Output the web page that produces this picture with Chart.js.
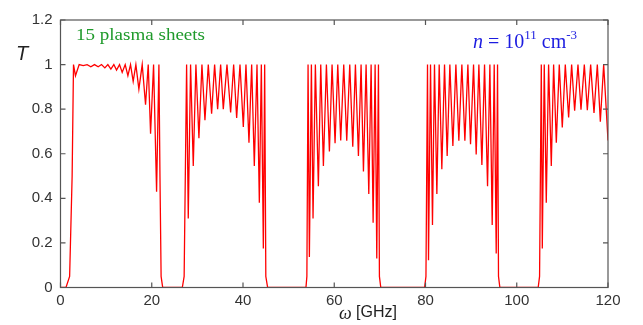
<!DOCTYPE html>
<html>
<head>
<meta charset="utf-8">
<script src="https://cdn.jsdelivr.net/npm/chart.js@4.4.0/dist/chart.umd.min.js"></script>
<style>
html, body { margin: 0; padding: 0; background: #fff; }
#wrap { width: 643px; height: 325px; }
</style>
</head>
<body>
<div id="wrap"><canvas id="transmission" width="643" height="325"></canvas></div>
<script>

/* TRANSMISSION T vs omega, 15 plasma sheets */

// band 1 (about 2 - 22 GHz)
const band1W = [0, 1.2, 2.0, 2.55, 2.85, 3.28, 4.09, 4.97, 5.84, 6.65, 7.45, 8.26, 8.99, 9.72, 10.38,
                11.04, 11.69, 12.28, 12.94, 13.52, 14.18, 14.77, 15.35, 15.93, 16.52,
                17.18, 17.91, 18.64, 19.23, 19.74, 20.40, 21.06, 21.57, 21.8, 22.05, 22.4];
const band1T = [0, 0, 0.05, 0.5, 1, 0.95, 1, 0.995, 1, 0.99, 1, 0.99, 1, 0.985, 1,
                0.98, 1, 0.975, 1, 0.965, 1, 0.95, 1, 0.925, 1,
                0.89, 1, 0.82, 1, 0.69, 1, 0.43, 1, 0.5, 0.05, 0];

// band 2 (about 27 - 45 GHz)
const band2W = [26.7, 27.1, 27.64, 28.00, 28.51, 29.10, 29.68, 30.34, 31.00, 31.66, 32.39, 33.12,
                33.78, 34.44, 35.10, 35.68, 36.49, 37.29, 37.95, 38.61, 39.34, 40.07, 40.65,
                41.31, 41.90, 42.48, 43.07, 43.58, 44.02, 44.46, 44.75, 45.0, 45.4];
const band2T = [0, 0.05, 1, 0.31, 1, 0.545, 1, 0.67, 1, 0.75, 1, 0.78,
                1, 0.80, 1, 0.80, 1, 0.785, 1, 0.76, 1, 0.72, 1,
                0.65, 1, 0.545, 1, 0.38, 1, 0.175, 1, 0.05, 0];

// band 3 (about 54 - 70 GHz)
const band3W = [53.8, 54.0, 54.26, 54.55, 54.99, 55.35, 55.86, 56.52, 57.04, 57.62, 58.28, 58.94,
                59.52, 60.18, 60.77, 61.42, 62.08, 62.74, 63.40, 64.06, 64.64, 65.30, 65.88,
                66.40, 66.98, 67.57, 68.08, 68.52, 68.96, 69.32, 69.69, 69.9, 70.2];
const band3T = [0, 0.05, 1, 0.137, 1, 0.31, 1, 0.454, 1, 0.545, 1, 0.61,
                1, 0.647, 1, 0.66, 1, 0.658, 1, 0.632, 1, 0.59, 1,
                0.52, 1, 0.42, 1, 0.29, 1, 0.13, 1, 0.05, 0];

// band 4 (about 80 - 96 GHz)
const band4W = [79.8, 80.1, 80.44, 80.66, 81.10, 81.53, 81.97, 82.49, 83.00, 83.58, 84.17, 84.75,
                85.34, 86.00, 86.66, 87.31, 87.97, 88.63, 89.29, 89.87, 90.53, 91.11, 91.70,
                92.36, 92.94, 93.60, 94.11, 94.62, 95.06, 95.50, 95.79, 96.0, 96.3];
const band4T = [0, 0.05, 1, 0.122, 1, 0.28, 1, 0.42, 1, 0.53, 1, 0.59,
                1, 0.635, 1, 0.658, 1, 0.658, 1, 0.643, 1, 0.597, 1,
                0.55, 1, 0.454, 1, 0.28, 1, 0.152, 1, 0.05, 0];

// band 5 (from about 105 GHz, cut at 120)
const band5W = [96.3, 104.7, 105.0, 105.38, 105.60, 106.03, 106.47, 106.98, 107.57, 108.08, 108.67,
                109.32, 109.98, 110.64, 111.37, 112.03, 112.69, 113.42, 114.08, 114.81, 115.47,
                116.20, 116.93, 117.66, 118.32, 119.05, 120];
const band5T = [0, 0, 0.05, 1, 0.175, 1, 0.38, 1, 0.545, 1, 0.65,
                1, 0.718, 1, 0.763, 1, 0.793, 1, 0.798, 1, 0.795,
                1, 0.783, 1, 0.744, 1, 0.66];

const xRange = [0, 120];
const yRange = [0, 1.2];

function toPoints(w, t) {
    return w.map((x, i) => ({ x: x, y: t[i] }));
}

const curve = [].concat(
    toPoints(band1W, band1T),
    toPoints(band2W, band2T),
    toPoints(band3W, band3T),
    toPoints(band4W, band4T),
    toPoints(band5W, band5T)
);

// draws the box, the inward ticks and the labels
const frameAndText = {
    id: 'frameAndText',
    afterDraw(chart) {
        const ctx = chart.ctx;
        const a = chart.chartArea;
        const xs = chart.scales.x;
        const ys = chart.scales.y;
        ctx.save();
        ctx.strokeStyle = '#555555';
        ctx.lineWidth = 1.2;
        ctx.strokeRect(a.left, a.top, a.right - a.left, a.bottom - a.top);

        ctx.beginPath();
        xs.ticks.forEach(t => {
            const px = xs.getPixelForValue(t.value);
            ctx.moveTo(px, a.bottom); ctx.lineTo(px, a.bottom - 5);
            ctx.moveTo(px, a.top); ctx.lineTo(px, a.top + 5);
        });
        ys.ticks.forEach(t => {
            const py = ys.getPixelForValue(t.value);
            ctx.moveTo(a.left, py); ctx.lineTo(a.left + 5, py);
            ctx.moveTo(a.right, py); ctx.lineTo(a.right - 5, py);
        });
        ctx.stroke();

        // y title
        ctx.fillStyle = '#222222';
        ctx.textBaseline = 'middle';
        ctx.textAlign = 'center';
        ctx.font = 'italic 20px "Liberation Sans", Arial, sans-serif';
        ctx.fillText('T', 22, 54);

        // x title
        ctx.textAlign = 'left';
        ctx.font = 'italic 18px "Liberation Serif", "Times New Roman", serif';
        ctx.fillText('\u03c9', 339, 314);
        ctx.font = '16px "Liberation Sans", Arial, sans-serif';
        ctx.fillText('[GHz]', 356, 313);

        // green note
        ctx.textBaseline = 'alphabetic';
        ctx.fillStyle = '#1f9a2b';
        ctx.font = '16.5px "Liberation Serif", "Times New Roman", serif';
        const note = '15 plasma sheets';
        const sx = 129 / ctx.measureText(note).width;
        ctx.save();
        ctx.translate(76, 40);
        ctx.scale(sx, 1);
        ctx.fillText(note, 0, 0);
        ctx.restore();

        // blue density
        ctx.fillStyle = '#1c1ce0';
        let x = 473;
        const base = 48;
        const big = '20px "Liberation Serif", "Times New Roman", serif';
        const small = '13px "Liberation Serif", "Times New Roman", serif';
        const parts = [
            ['italic ' + big, 'n', 0],
            [big, ' = 10', 0],
            [small, '11', -9],
            [big, ' cm', 0],
            [small, '-3', -9]
        ];
        parts.forEach(p => {
            ctx.font = p[0];
            ctx.fillText(p[1], x, base + p[2]);
            x += ctx.measureText(p[1]).width;
        });
        ctx.restore();
    }
};

const ctx_t = document.getElementById('transmission').getContext('2d');
const chart_t = new Chart(ctx_t, {
    type: 'line',
    data: {
        datasets: [{
            label: 'T',
            data: curve,
            borderColor: '#ff0000',
            borderWidth: 1.3,
            pointRadius: 0,
            tension: 0,
            fill: false
        }]
    },
    options: {
        responsive: false,
        animation: false,
        layout: { padding: { top: 20, right: 35, left: 0, bottom: 0 } },
        plugins: {
            legend: { display: false },
            tooltip: { enabled: false }
        },
        scales: {
            x: {
                type: 'linear',
                min: xRange[0],
                max: xRange[1],
                afterFit: s => { s.height = 37.5; },
                grid: { display: false, drawTicks: false },
                border: { display: false },
                ticks: {
                    stepSize: 20,
                    padding: 4,
                    maxRotation: 0,
                    color: '#333333',
                    font: { family: '"Liberation Sans", Arial, sans-serif', size: 15 }
                }
            },
            y: {
                min: yRange[0],
                max: yRange[1],
                afterFit: s => { s.width = 60.5; },
                grid: { display: false, drawTicks: false },
                border: { display: false },
                ticks: {
                    stepSize: 0.2,
                    padding: 8,
                    color: '#333333',
                    font: { family: '"Liberation Sans", Arial, sans-serif', size: 15 },
                    callback: v => String(+v.toFixed(1))
                }
            }
        }
    },
    plugins: [frameAndText]
});

</script>
</body>
</html>
